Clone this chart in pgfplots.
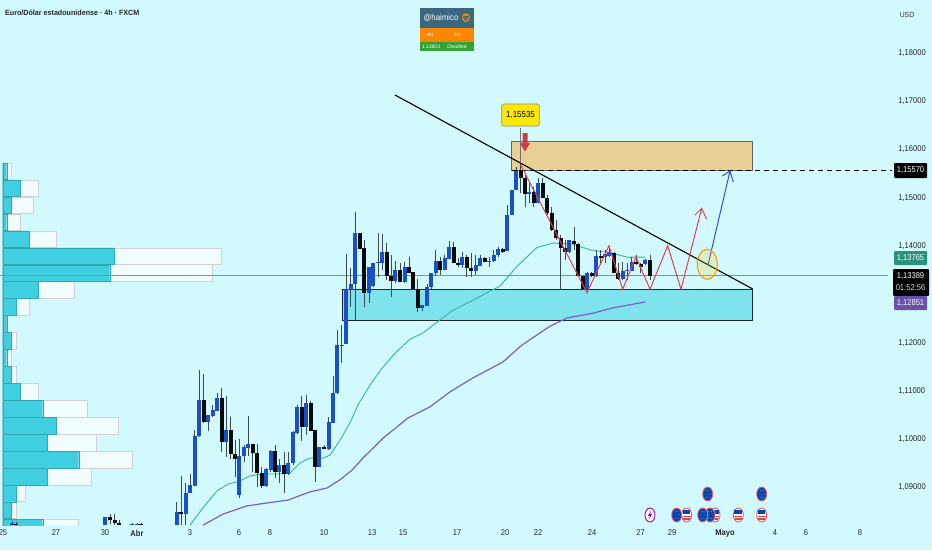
\documentclass[border=0pt]{standalone}
\usepackage{fontspec}
\setmainfont{Liberation Sans}
\newfontfamily\emojifont{Noto Emoji}
\usepackage{pgfplots}
\usepackage{pgfplotstable}
\pgfplotsset{compat=1.18}
\definecolor{bg}{HTML}{D1F9FE}
\definecolor{cblue}{HTML}{1A4FC9}
\definecolor{cblack}{HTML}{0A0A0A}
\definecolor{wick}{HTML}{3A4A50}
\definecolor{ema}{HTML}{35B59A}
\definecolor{sma}{HTML}{7B5FC4}
\definecolor{volc}{HTML}{3FCFE0}
\definecolor{volw}{HTML}{F0FCFE}
\definecolor{zoneb}{HTML}{7FE3EE}
\definecolor{zoneo}{HTML}{E8CF95}
\definecolor{redl}{HTML}{E5404F}
\definecolor{bluel}{HTML}{2F55C8}
\pgfplotstableread{
x bl bh l h
12 1.0822 1.0826 1.0822 1.0830
105 1.0823 1.0840 1.0823 1.0840
132 1.0822 1.0825 1.0822 1.0826
137 1.0822 1.0825 1.0822 1.0826
176.7 1.0822 1.0850 1.0822 1.0871
185.7 1.0846 1.0889 1.0822 1.0909
190 1.0888 1.0905 1.0888 1.0929
194.7 1.0904 1.1007 1.0904 1.1020
199.3 1.1007 1.1081 1.1004 1.1143
208.3 1.1036 1.1050 1.1016 1.1050
212.7 1.1048 1.1060 1.1045 1.1071
217.3 1.1058 1.1085 1.1058 1.1095
226 1.0995 1.1019 1.0964 1.1089
239.3 1.0884 1.0965 1.0878 1.1000
244 1.0965 1.0983 1.0953 1.0988
248.3 1.0982 1.0990 1.0965 1.1048
266 1.0903 1.0938 1.0902 1.0940
270.7 1.0936 1.0976 1.0933 1.0978
279.3 1.0933 1.0947 1.0909 1.0960
288.3 1.0927 1.0951 1.0926 1.0974
293 1.0950 1.1014 1.0947 1.1016
297.3 1.1012 1.1067 1.1011 1.1071
306.3 1.1026 1.1074 1.1009 1.1091
319.3 1.0942 1.0984 1.0942 1.0984
328.7 1.0980 1.1036 1.0978 1.1047
333 1.1034 1.1096 1.1033 1.1131
337.3 1.1095 1.1195 1.1094 1.1226
341.7 1.1194 1.1196 1.1158 1.1236
346 1.1197 1.1311 1.1197 1.1383
350.7 1.1309 1.1321 1.1274 1.1354
355.3 1.1321 1.1427 1.1247 1.1470
369 1.1303 1.1357 1.1282 1.1357
373.3 1.1317 1.1365 1.1315 1.1365
378 1.1365 1.1367 1.1336 1.1427
382 1.1365 1.1388 1.1350 1.1425
395.3 1.1328 1.1350 1.1323 1.1369
404.7 1.1325 1.1357 1.1323 1.1367
422.3 1.1272 1.1278 1.1265 1.1278
427 1.1276 1.1315 1.1276 1.1321
431.3 1.1315 1.1344 1.1311 1.1344
435.7 1.1344 1.1369 1.1338 1.1392
444.7 1.1350 1.1375 1.1350 1.1381
449 1.1373 1.1398 1.1373 1.1410
462.3 1.1361 1.1377 1.1354 1.1388
475.7 1.1348 1.1361 1.1340 1.1381
480 1.1359 1.1375 1.1359 1.1381
489.3 1.1367 1.1369 1.1357 1.1377
493.7 1.1369 1.1381 1.1367 1.1392
498.3 1.1381 1.1394 1.1377 1.1398
507 1.1390 1.1464 1.1390 1.1485
511.7 1.1464 1.1516 1.1464 1.1516
516 1.1516 1.1557 1.1516 1.1564
529.3 1.1508 1.1512 1.1489 1.1530
538 1.1489 1.1530 1.1489 1.1541
569.3 1.1388 1.1412 1.1386 1.1412
587.3 1.1311 1.1344 1.1305 1.1346
596.3 1.1338 1.1379 1.1336 1.1392
605 1.1377 1.1383 1.1365 1.1392
609.3 1.1379 1.1388 1.1377 1.1400
622.7 1.1332 1.1348 1.1330 1.1367
627.3 1.1348 1.1350 1.1330 1.1365
631.7 1.1348 1.1367 1.1348 1.1377
645.3 1.1363 1.1371 1.1361 1.1373
}\bluecandles
\pgfplotstableread{
x bl bh l h
16 1.0822 1.0825 1.0822 1.0828
110 1.0832 1.0840 1.0825 1.0845
114.7 1.0826 1.0833 1.0823 1.0846
119 1.0823 1.0826 1.0823 1.0832
141 1.0822 1.0825 1.0822 1.0826
181 1.0846 1.0850 1.0822 1.0924
203.7 1.1036 1.1081 1.1033 1.1134
221.7 1.0995 1.1085 1.0974 1.1105
230.7 1.0969 1.1019 1.0960 1.1047
235 1.0959 1.0969 1.0922 1.0998
252.7 1.0971 1.0990 1.0933 1.0991
257.3 1.0931 1.0972 1.0902 1.0991
261.7 1.0903 1.0931 1.0898 1.0943
275 1.0933 1.0976 1.0919 1.0988
284 1.0927 1.0947 1.0888 1.0974
301.7 1.1026 1.1067 1.0997 1.1089
310.7 1.1018 1.1074 1.1016 1.1080
315 1.0943 1.1019 1.0912 1.1019
324 1.0980 1.0984 1.0979 1.0988
359.7 1.1394 1.1427 1.1394 1.1427
364.3 1.1303 1.1396 1.1274 1.1412
386.7 1.1338 1.1388 1.1330 1.1406
391.3 1.1328 1.1338 1.1294 1.1381
400 1.1325 1.1350 1.1325 1.1365
409 1.1344 1.1357 1.1344 1.1377
413.3 1.1311 1.1346 1.1309 1.1346
417.7 1.1272 1.1311 1.1263 1.1332
440.3 1.1350 1.1369 1.1340 1.1377
453.7 1.1365 1.1398 1.1365 1.1408
458 1.1361 1.1365 1.1357 1.1375
466.7 1.1354 1.1377 1.1336 1.1381
471.3 1.1348 1.1354 1.1336 1.1386
484.7 1.1367 1.1375 1.1367 1.1377
502.7 1.1388 1.1394 1.1386 1.1396
520.7 1.1541 1.1557 1.1510 1.1572
525 1.1508 1.1541 1.1481 1.1547
533.7 1.1489 1.1512 1.1481 1.1522
542.7 1.1499 1.1530 1.1499 1.1541
547 1.1468 1.1499 1.1464 1.1506
551.7 1.1433 1.1468 1.1431 1.1481
556 1.1417 1.1433 1.1412 1.1454
560.7 1.1396 1.1417 1.1309 1.1423
565 1.1388 1.1396 1.1371 1.1412
574 1.1404 1.1410 1.1392 1.1439
578.3 1.1338 1.1404 1.1338 1.1406
582.7 1.1311 1.1338 1.1309 1.1338
591.7 1.1338 1.1344 1.1336 1.1346
600.7 1.1375 1.1379 1.1365 1.1392
614 1.1344 1.1386 1.1344 1.1388
618.3 1.1332 1.1344 1.1330 1.1365
636 1.1363 1.1367 1.1361 1.1381
640.7 1.1357 1.1363 1.1344 1.1365
650 1.1338 1.1371 1.1330 1.1381
}\blackcandles
\pgfplotstableread{
p c w
1.15547 4 8.3
1.15196 17.3 35.3
1.14845 8.7 30.7
1.14494 4 17.3
1.14143 26.7 53.3
1.13792 111.7 218.3
1.13441 107 209.7
1.13090 35.7 71.3
1.12739 13.3 26.7
1.12388 4 4
1.12037 8.7 13.3
1.11686 4 8.7
1.11335 8.7 13.3
1.10984 17.3 35.3
1.10633 40 84.7
1.10282 53.3 115.7
1.09931 44.3 93.7
1.09580 76 129.3
1.09229 44.3 88.7
1.08878 13.3 22.3
1.08527 8.7 13.3
1.08176 40 76
}\volprofile
\newcommand{\euicon}[2]{%
  \fill[white] (#1,#2) ellipse [x radius=5.5, y radius=7.5];
  \draw[redl!85!white,line width=.9pt,fill=blue!60!cyan!70!black] (#1,#2) ellipse [x radius=5, y radius=7];
  \foreach \a in {0,60,...,300}{\fill[yellow!60!white] ({#1+2.6*cos(\a)},{#2+3.8*sin(\a)}) circle (.35);}
}
\newcommand{\usicon}[2]{%
  \draw[redl!85!white,line width=.9pt,fill=white] (#1,#2) ellipse [x radius=5, y radius=7];
  \fill[blue!60!cyan!70!black] ({#1-4},{#2-5.4}) rectangle ({#1+3.6},{#2-.8});
  \fill[redl] ({#1-4},{#2+.6}) rectangle ({#1+4},{#2+1.8});
  \fill[redl] ({#1-3.4},{#2+3.4}) rectangle ({#1+3.4},{#2+4.6});
}
\begin{document}
\begin{tikzpicture}
\path[fill=bg,use as bounding box] (0,-25pt) rectangle (932pt,525pt);
% volume profile
\begin{axis}[name=prof,at={(0,0)},anchor=south west,scale only axis,width=888pt,height=525pt,
  xmin=-2.7,xmax=885.3,ymin=1.08224,ymax=1.19093,hide axis,clip=true]
\addplot[xbar,bar shift=0pt,bar width=16.6pt,fill=volw,draw=black!18,line width=.5pt] table[x=w,y=p]{\volprofile};
\addplot[xbar,bar shift=0pt,bar width=16.6pt,fill=volc,draw=volc!80!black,line width=.4pt] table[x=c,y=p]{\volprofile};
\end{axis}
% chart
\begin{axis}[at={(0,0)},anchor=south west,scale only axis,width=888pt,height=525pt,
  xmin=0,xmax=888,ymin=1.08224,ymax=1.19093,clip=false,
  axis line style={draw=none},tick style={draw=none},
  ytick pos=right,yticklabel pos=right,
  ytick={1.18,1.17,1.16,1.15,1.14,1.12,1.11,1.10,1.09},
  yticklabels={{1,18000},{1,17000},{1,16000},{1,15000},{1,14000},{1,12000},{1,11000},{1,10000},{1,09000}},
  yticklabel style={font=\fontsize{8.4}{9}\selectfont,text=black!85,xscale=.9,anchor=west,xshift=8pt},
  xtick={3,56,105,137,190,239,270,324,372,403,457,505,538,592,640.5,672,725,775,806,860},
  xticklabels={25,27,30,\textbf{Abr},3,6,8,10,13,15,17,20,22,24,27,29,\textbf{Mayo},4,6,8},
  xticklabel style={font=\fontsize{8.4}{9}\selectfont,text=black!85,xscale=.9,anchor=center,yshift=-8pt},
]
% current price line
\addplot[black!45,line width=.6pt] coordinates {(0,1.13389)(888,1.13389)};
% zones
\addplot[fill=zoneb,draw=black!85!bg,line width=.8pt] coordinates {(342.3,1.1310)(752.7,1.1310)(752.7,1.1247)(342.3,1.1247)} --cycle;
\addplot[fill=zoneo,draw=black!60,line width=.8pt] coordinates {(511.7,1.1616)(752.7,1.1616)(752.7,1.1557)(511.7,1.1557)} --cycle;
% moving averages
\addplot[ema,line width=.9pt] coordinates {(190,1.0822)(203,1.0858)(217,1.0893)(228,1.0907)(239,1.0913)(250,1.0924)(263,1.0928)(277,1.0928)(290,1.0930)(300,1.0951)(310,1.0961)(323,1.0961)(330,1.0967)(340,1.0998)(350,1.1034)(358,1.1071)(370,1.1112)(382,1.1147)(395,1.1178)(410,1.1207)(423,1.1220)(440,1.1247)(453,1.1267)(473,1.1288)(500,1.1317)(517,1.1358)(537,1.1397)(553,1.1406)(573,1.1404)(590,1.1392)(610,1.1386)(627,1.1377)(645,1.1377)};
\addplot[sma,line width=1.2pt] coordinates {(203,1.0822)(223,1.0845)(247,1.0862)(267,1.0868)(288,1.0874)(310,1.0891)(327,1.0899)(340,1.0916)(352,1.0936)(363,1.0961)(383,1.1002)(408,1.1044)(430,1.1067)(450,1.1098)(473,1.1127)(503,1.1160)(522,1.1195)(550,1.1234)(567,1.1251)(593,1.1261)(613,1.1272)(645,1.1284)};
% candle wicks and bodies
\addplot[draw=none,mark=none,forget plot,error bars/.cd,y dir=plus,y explicit,error mark=none,error bar style={line width=.7pt,wick}] table[x=x,y=l,y error plus expr=\thisrow{h}-\thisrow{l}]{\bluecandles};
\addplot[draw=none,mark=none,forget plot,error bars/.cd,y dir=plus,y explicit,error mark=none,error bar style={line width=.7pt,wick}] table[x=x,y=l,y error plus expr=\thisrow{h}-\thisrow{l}]{\blackcandles};
\addplot[draw=none,mark=none,forget plot,error bars/.cd,y dir=plus,y explicit,error mark=none,error bar style={line width=4pt,cblue}] table[x=x,y=bl,y error plus expr=\thisrow{bh}-\thisrow{bl}]{\bluecandles};
\addplot[draw=none,mark=none,forget plot,error bars/.cd,y dir=plus,y explicit,error mark=none,error bar style={line width=4pt,cblack}] table[x=x,y=bl,y error plus expr=\thisrow{bh}-\thisrow{bl}]{\blackcandles};
% drawings
\addplot[black,line width=1.1pt] coordinates {(395,1.17126)(752.7,1.1311)};
\addplot[black,line width=1pt,dash pattern=on 5pt off 4pt] coordinates {(512,1.1557)(892,1.1557)};
\addplot[black!55,line width=.6pt] coordinates {(520.7,1.1572)(520.7,1.1645)};
\addplot[redl,line width=1pt] coordinates {(520.7,1.15677)(587,1.13033)(609,1.14006)(622.7,1.13104)(636,1.13778)(650,1.13104)(667.7,1.14006)(681,1.13104)(701.7,1.14781)};
\addplot[redl,line width=1pt] coordinates {(695,1.14642)(701.7,1.14781)(706.7,1.14553)};
\addplot[bluel,line width=1pt] coordinates {(708,1.13607)(730,1.15553)};
\addplot[bluel,line width=1pt] coordinates {(722.3,1.15449)(730,1.15553)(733.3,1.15325)};
\end{axis}
% annotations in picture coordinates
\begin{scope}[shift={(0pt,525pt)},x=1pt,y=-1pt]
\fill[yellow!60!orange,fill opacity=.22] (707.3,264.3) ellipse [x radius=10, y radius=15];
\draw[orange!85!yellow,line width=1pt] (707.3,264.3) ellipse [x radius=10, y radius=15];
% label + red arrow
\draw[black!45,fill=yellow!90!orange,rounded corners=2pt,line width=.6pt] (501.7,104) rectangle (539.3,126);
\node[font=\fontsize{8.8}{9}\selectfont,xscale=.9] at (520.5,115) {1,15535};
\fill[redl!90!black] (522.5,133) -- (527.5,133) -- (527.5,143) -- (530,143) -- (525,151.5) -- (520,143) -- (522.5,143) -- cycle;
% title, currency
\node[anchor=west,font=\fontsize{7.6}{8}\selectfont\bfseries,xscale=.94,text=black!85,inner sep=0pt] at (5,13) {Euro/Dólar estadounidense · 4h · FXCM};
\node[font=\fontsize{7.6}{8}\selectfont,xscale=.9,text=black!80] at (907,15) {USD};
% widget
\fill[blue!20!teal!50!gray!90!black] (420,8) rectangle (474,28);
\fill[orange!95!yellow] (420,28) rectangle (474,42);
\fill[green!55!black!80!white] (420,42) rectangle (474,51);
\node[text=white,font=\fontsize{8.5}{9}\selectfont,xscale=.92] at (441,18) {@haimico};
\node[text=orange!90!yellow,font=\emojifont\fontsize{9}{9}\selectfont] at (466,18) {🦁};
\node[text=white,font=\fontsize{5}{5}\selectfont] at (430,35) {4H};
\node[text=white,font=\fontsize{5}{5}\selectfont] at (457,35) {1H};
\node[text=white,font=\fontsize{5}{5}\selectfont] at (431,46.5) {1.13803};
\node[text=white,font=\fontsize{5}{5}\selectfont] at (457,46.5) {Disabled};
% price badges
\fill[black,rounded corners=1pt] (894,163) rectangle (927,178);
\node[text=white,font=\fontsize{8.4}{9}\selectfont,xscale=.9] at (910.5,170.5) {1,15570};
\fill[ema!80!black,rounded corners=1pt] (894,251) rectangle (927,265);
\node[text=white,font=\fontsize{8.4}{9}\selectfont,xscale=.9] at (910.5,258) {1,13765};
\fill[black,rounded corners=1pt] (893,269) rectangle (929,296);
\node[text=white,font=\fontsize{8.4}{9}\selectfont,xscale=.9] at (910.5,276) {1,13389};
\node[text=white!85!black,font=\fontsize{8.4}{9}\selectfont,xscale=.9] at (910.5,288) {01:52:56};
\fill[sma!85!black,rounded corners=1pt] (894,296) rectangle (927,310);
\node[text=white,font=\fontsize{8.4}{9}\selectfont,xscale=.9] at (910.5,303) {1,12851};
% event icons
\draw[violet!70!magenta,line width=.9pt,fill=white] (650,515) ellipse [x radius=5, y radius=7];
\fill[violet!70!magenta] (651,510.5) -- (648,515.8) -- (650,515.8) -- (649,519.5) -- (652,514.2) -- (650,514.2) -- cycle;
\euicon{676.7}{515}
\usicon{686.7}{515}
\usicon{715}{515}
\euicon{710}{515}
\euicon{702.7}{515}
\euicon{707.7}{494}
\usicon{738.3}{515}
\euicon{761.7}{494}
\usicon{761.7}{515}
\end{scope}
\end{tikzpicture}
\end{document}
